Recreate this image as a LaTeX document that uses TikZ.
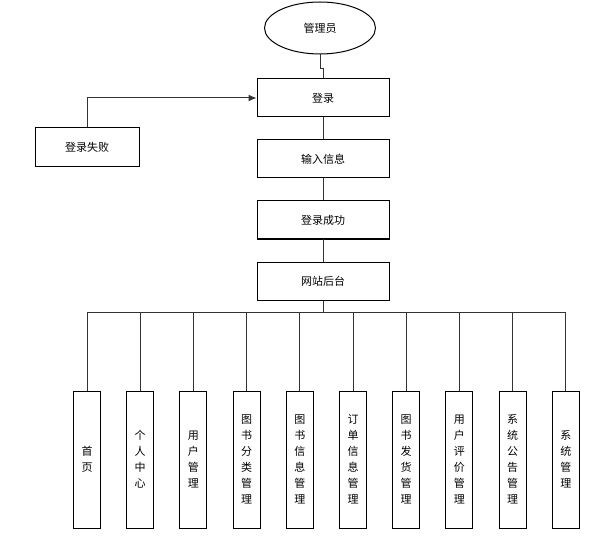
\documentclass[tikz,border=0pt]{standalone}
\usepackage{fontspec}
\newfontfamily\cjk{Noto Sans CJK SC}
\usetikzlibrary{shapes.geometric, arrows.meta}

\tikzset{
	box/.style={draw, line width=1pt, minimum width=132pt, minimum height=38pt, inner sep=0pt},
	colbox/.style={draw, line width=1pt, minimum width=27pt, minimum height=137pt, inner sep=0pt, align=center},
	link/.style={draw, line width=1pt, color=black!80}
}

\begin{document}
\begin{tikzpicture}[x=1pt, y=-1pt, font=\cjk\fontsize{11}{16}\selectfont]
	\useasboundingbox (0,0) rectangle (615,545);

	\node [draw, line width=1pt, ellipse, minimum width=111pt, minimum height=52pt, inner sep=0pt] (admin) at (320,28) {管理员};

	\node [box] (login) at (323,98) {登录};
	\node [box, minimum width=104pt, minimum height=39pt] (fail) at (87,147.5) {登录失败};
	\node [box] (input) at (323,159) {输入信息};
	\node [box] (ok) at (323,220) {登录成功};
	\node [box] (site) at (323,281) {网站后台};

	\draw [link] (admin.south) -- ++(0,14) -| (login.north);
	\draw [link, -{Latex[length=8pt,width=7pt]}] (fail.north) |- (login.west);
	\draw [link] (login) -- (input);
	\draw [link] (input) -- (ok);
	\draw [link] (ok) -- (site);

	% modules
	\foreach \i/\txt in {0/首\\页, 1/个\\人\\中\\心, 2/用\\户\\管\\理,
		3/图\\书\\分\\类\\管\\理, 4/图\\书\\信\\息\\管\\理, 5/订\\单\\信\\息\\管\\理,
		6/图\\书\\发\\货\\管\\理, 7/用\\户\\评\\价\\管\\理, 8/系\\统\\公\\告\\管\\理,
		9/系\\统\\管\\理}
		\node [colbox] (m\i) at ({87+53.2*\i},459.5) {\txt};

	\draw [link] (site.south) -- ++(0,12) coordinate (bus);
	\foreach \i in {0,...,9}
		\draw [link] (bus) -| (m\i.north);
\end{tikzpicture}
\end{document}
